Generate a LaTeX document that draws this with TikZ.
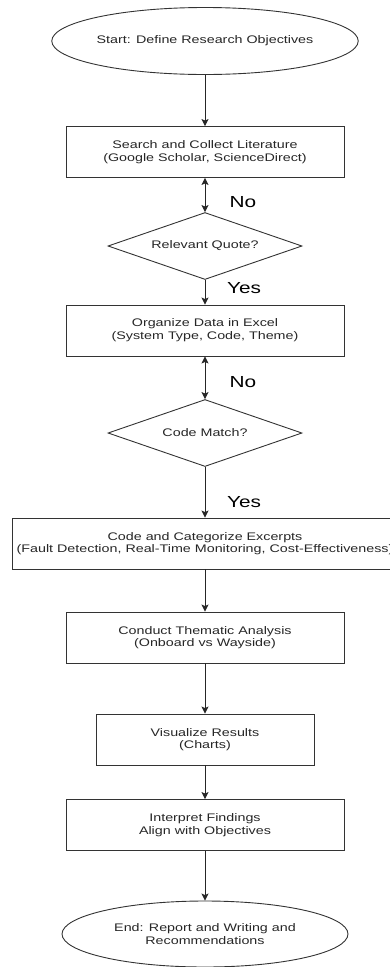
\documentclass[tikz,border=0pt]{standalone}
\usepackage{fontspec}
\setmainfont[FakeStretch=1.3]{Liberation Sans}
\usetikzlibrary{shapes.geometric,arrows.meta}
\begin{document}
\begin{tikzpicture}[x=1pt,y=-1pt,
  every node/.style={font=\fontsize{11}{12.7}\selectfont, text=black!85, align=center, inner sep=0pt},
  term/.style={ellipse, draw=black!80, line width=0.9pt, minimum width=286pt, minimum height=67pt},
  proc/.style={rectangle, draw=black!80, line width=0.9pt, minimum width=278pt, minimum height=51pt},
  dec/.style={diamond, aspect=2.9, draw=black!80, line width=0.9pt, minimum width=194pt, minimum height=67pt},
  lbl/.style={font=\fontsize{16}{18}\selectfont, text=black},
  flow/.style={draw=black!85, line width=0.9pt, -{Stealth[length=7pt,width=7pt,inset=1.5pt]}},
  bflow/.style={draw=black!85, line width=0.9pt, {Stealth[length=7pt,width=7pt,inset=1.5pt]}-{Stealth[length=7pt,width=7pt,inset=1.5pt]}}]
\useasboundingbox (0,0) rectangle (390,967);
\node[term] (start) at (205,41) {Start: Define Research Objectives};
\node[proc] (b1) at (205,152) {Search and Collect Literature\\(Google Scholar, ScienceDirect)};
\node[dec] (d1) at (205,246) {Relevant Quote?};
\node[proc] (b2) at (205,330.5) {Organize Data in Excel\\(System Type, Code, Theme)};
\node[dec] (d2) at (205,433) {Code Match?};
\node[proc, minimum width=386pt] (b3) at (205,543.5) {Code and Categorize Excerpts\\(Fault Detection, Real-Time Monitoring, Cost-Effectiveness)};
\node[proc] (b4) at (205,637.5) {Conduct Thematic Analysis\\(Onboard vs Wayside)};
\node[proc, minimum width=218pt] (b5) at (205,739.5) {Visualize Results\\(Charts)};
\node[proc] (b6) at (205,825) {Interpret Findings\\Align with Objectives};
\node[term, minimum height=66pt] (end) at (205,934) {End: Report and Writing and\\Recommendations};
\draw[flow] (start) -- (b1);
\draw[bflow] (b1) -- (d1);
\draw[flow] (d1) -- (b2);
\draw[bflow] (b2) -- (d2);
\draw[flow] (d2) -- (b3);
\draw[flow] (b3) -- (b4);
\draw[flow] (b4) -- (b5);
\draw[flow] (b5) -- (b6);
\draw[flow] (b6) -- (end);
\node[lbl] (no1) at (243,202) {No};
\node[lbl] (yes1) at (244,288) {Yes};
\node[lbl] (no2) at (243,382) {No};
\node[lbl] (yes2) at (244,502) {Yes};
\end{tikzpicture}
\end{document}
